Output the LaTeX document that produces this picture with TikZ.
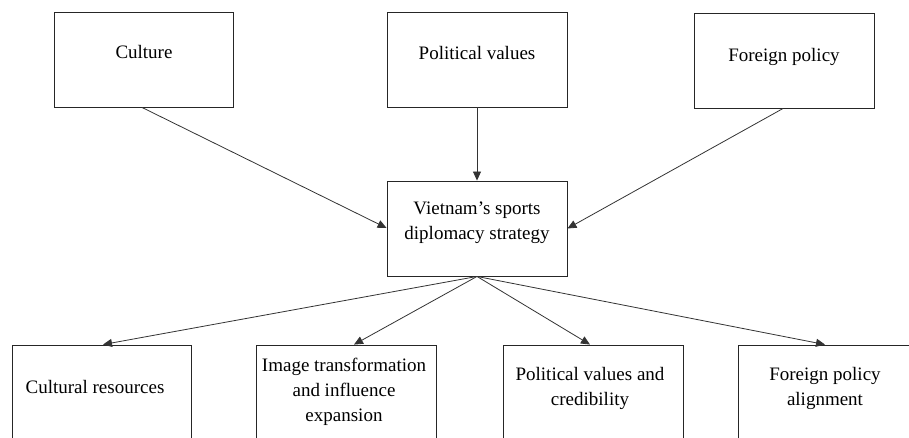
\documentclass[tikz,border=0pt]{standalone}
\usepackage{fontspec}
\setmainfont{Liberation Serif}
\usetikzlibrary{arrows.meta}
\begin{document}
\begin{tikzpicture}[x=1pt,y=-1pt,
  box/.style={draw=black!85,line width=0.9pt,rectangle,inner sep=0pt},
  lbl/.style={font=\fontsize{19}{25}\selectfont,align=center,inner sep=0pt,anchor=base},
  arr/.style={draw=black!80,line width=0.8pt,-{Triangle[length=9pt,width=8pt]}}]
\useasboundingbox (0,0) rectangle (909,438);
\clip (0,0) rectangle (909,438);
% top row
\node[box,minimum width=179pt,minimum height=95pt] (cul) at (143.5,59.5) {};
\node[box,minimum width=180pt,minimum height=95pt] (pol) at (477,59.5) {};
\node[box,minimum width=180pt,minimum height=95pt] (for) at (784,61) {};
\node[lbl] (tcul) at (144,59) {Culture};
\node[lbl] (tpol) at (477,60) {Political values};
\node[lbl] (tfor) at (784,62) {Foreign policy};
% middle
\node[box,minimum width=180pt,minimum height=95pt] (mid) at (477,228.5) {};
\node[lbl] (tmid) at (477,240) {Vietnam’s sports\\diplomacy strategy};
% bottom row
\node[box,minimum width=179pt,minimum height=110pt] (b1) at (101.5,400) {};
\node[box,minimum width=180pt,minimum height=110pt] (b2) at (346,400) {};
\node[box,minimum width=180pt,minimum height=110pt] (b3) at (593,400) {};
\node[box,minimum width=180pt,minimum height=110pt] (b4) at (828,400) {};
\node[lbl] (tb1) at (95,393) {Cultural resources};
\node[lbl] (tb2) at (344,421) {Image transformation\\and influence\\expansion};
\node[lbl] (tb3) at (590,405) {Political values and\\credibility};
\node[lbl] (tb4) at (825,405) {Foreign policy\\alignment};
% connectors
\coordinate (culs) at ([xshift=-1.5pt]cul.south);
\coordinate (fors) at (783,108.5);
\coordinate (midw) at (mid.west |- 0,228);
\draw[arr] (culs) -- (midw);
\draw[arr] (pol.south) -- (mid.north);
\draw[arr] (fors) -- (mid.east);
\coordinate (mids) at (mid.south);
\draw[arr] (mids) -- (b1.north -| 103,0);
\draw[arr] (mids) -- (b2.north -| 354,0);
\draw[arr] (mids) -- (b3.north -| 590,0);
\draw[arr] (mids) -- (b4.north -| 825,0);
\end{tikzpicture}
\end{document}
